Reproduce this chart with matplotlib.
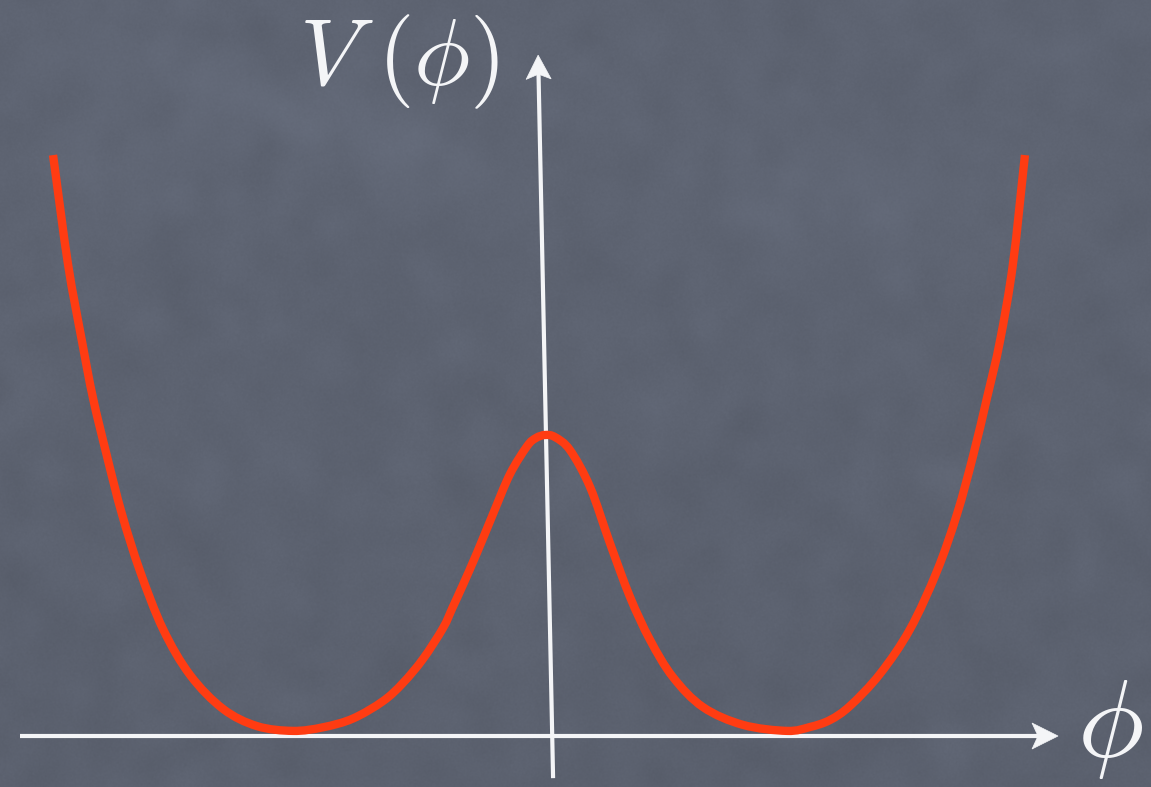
import numpy as np
import matplotlib
matplotlib.use("Agg")
import matplotlib.pyplot as plt
from matplotlib.patches import Polygon, PathPatch
from matplotlib.path import Path
from matplotlib.transforms import IdentityTransform

plt.rcParams["mathtext.fontset"] = "cm"

# Double-well potential V(phi), sampled along the curve
phi = [-2.008, -1.947, -1.890, -1.845, -1.788, -1.727, -1.653, -1.559, -1.449,
       -1.314, -1.176, -1.029, -0.906, -0.784, -0.661, -0.580, -0.498, -0.416,
       -0.376, -0.335, -0.278, -0.212, -0.143, -0.073, -0.037, 0.000, 0.041,
       0.102, 0.184, 0.265, 0.347, 0.429, 0.522, 0.645, 0.808, 0.988, 1.082,
       1.163, 1.245, 1.367, 1.490, 1.600, 1.682, 1.747, 1.804, 1.857, 1.910,
       1.959]
V = [1.930, 1.568, 1.312, 1.123, 0.930, 0.738, 0.548, 0.355, 0.203,
     0.090, 0.033, 0.017, 0.029, 0.058, 0.116, 0.176, 0.256, 0.359,
     0.429, 0.502, 0.608, 0.738, 0.870, 0.963, 0.990, 1.000, 0.993,
     0.950, 0.827, 0.641, 0.462, 0.319, 0.196, 0.096, 0.037, 0.017, 0.030,
     0.053, 0.100, 0.206, 0.355, 0.548, 0.738, 0.930, 1.123, 1.312, 1.568,
     1.930]

x_label = r"$\phi$"
y_label = r"$V\;(\phi)$"

BOARD = "#5e6472"
CHALK = "#f4f5f7"
CURVE = "#ff3c12"

XLIM = (-2.2245, 2.4735)
YLIM = (-0.1694, 2.4452)

fig = plt.figure(figsize=(11.51, 7.87), dpi=100)
fig.patch.set_facecolor(BOARD)
ax = fig.add_axes([0, 0, 1, 1])
ax.set_xlim(*XLIM)
ax.set_ylim(*YLIM)
ax.axis("off")

# faint chalkboard texture
rng = np.random.default_rng(7)
h, w = 787, 1151
noise = rng.normal(size=(h, w))
ky = np.fft.fftfreq(h)[:, None]
kx = np.fft.fftfreq(w)[None, :]
F = np.fft.fft2(noise)
smooth = np.real(np.fft.ifft2(F * np.exp(-(kx**2 + ky**2) * 2 * (40**2))))
smooth /= np.abs(smooth).max()
fine = np.real(np.fft.ifft2(F * np.exp(-(kx**2 + ky**2) * 2 * (2.0**2))))
fine /= np.abs(fine).max()
yy, xx = np.mgrid[0:h, 0:w]
# a couple of wiped chalk streaks
u = (xx - 320) * 0.94 + (yy - 120) * 0.34
v = -(xx - 320) * 0.34 + (yy - 120) * 0.94
smudge = (0.06 * np.exp(-((u / 200) ** 2 + (v / 35) ** 2))
          + 0.05 * np.exp(-(((xx - 850) / 130) ** 2 + ((yy - 205) / 55) ** 2))
          + 0.03 * np.exp(-(((xx - 120) / 120) ** 2 + ((yy - 160) / 80) ** 2)))
base = np.array(matplotlib.colors.to_rgb(BOARD))
shade = 1 + 0.045 * smooth + 0.03 * fine + smudge - 0.03 * (yy / h)
img = np.clip(base[None, None, :] * shade[..., None], 0, 1)
ax.imshow(img, extent=[XLIM[0], XLIM[1], YLIM[0], YLIM[1]],
          origin="upper", aspect="auto", zorder=0, interpolation="bilinear")
ax.set_xlim(*XLIM)
ax.set_ylim(*YLIM)


def arrow_head(tip, back, length=25, half=12.5, notch=6, color=CHALK):
    """Concave arrowhead drawn in display space, pointing from back to tip."""
    t = ax.transData.transform(tip)
    b = ax.transData.transform(back)
    d = (t - b) / np.linalg.norm(t - b)
    n = np.array([-d[1], d[0]])
    base_pt = t - d * length
    pts = [t, base_pt + n * half, t - d * (length - notch), base_pt - n * half]
    ax.add_patch(Polygon(pts, closed=True, facecolor=color, edgecolor=color,
                         linewidth=0.5, transform=IdentityTransform(), zorder=4))
    return ax.transData.inverted().transform(t - d * (length - notch - 1))


def smooth_path(xs, ys):
    """Catmull-Rom curve through the sampled points, as cubic Bezier segments."""
    p = np.column_stack([xs, ys]).astype(float)
    p = np.vstack([p[0] * 2 - p[1], p, p[-1] * 2 - p[-2]])
    verts, codes = [p[1]], [Path.MOVETO]
    for i in range(1, len(p) - 2):
        c1 = p[i] + (p[i + 1] - p[i - 1]) / 6
        c2 = p[i + 1] - (p[i + 2] - p[i]) / 6
        verts += [c1, c2, p[i + 1]]
        codes += [Path.CURVE4] * 3
    return Path(verts, codes)


# horizontal axis
h_tail, h_tip = (-2.143, 0.0), (2.094, 0.0)
h_end = arrow_head(h_tip, h_tail, length=26, half=13, notch=6)
ax.plot([h_tail[0], h_end[0]], [h_tail[1], h_end[1]], color=CHALK, lw=3.0,
        solid_capstyle="butt", zorder=3)

# vertical axis (slightly leaning, as drawn by hand)
v_tail, v_tip = (0.033, -0.140), (-0.028, 2.262)
v_end = arrow_head(v_tip, v_tail, length=24, half=12.5, notch=5)
ax.plot([v_tail[0], v_end[0]], [v_tail[1], v_end[1]], color=CHALK, lw=3.0,
        solid_capstyle="butt", zorder=3)

# potential curve
ax.add_patch(PathPatch(smooth_path(phi, V), facecolor="none", edgecolor=CURVE,
                       lw=6.0, capstyle="butt", joinstyle="round", zorder=5))

ax.text(-0.595, 2.239, y_label, color=CHALK, fontsize=68, ha="center",
        va="center", zorder=6)
ax.text(2.305, 0.028, x_label, color=CHALK, fontsize=80, ha="center",
        va="center", zorder=6)

fig.savefig("out.png", dpi=100, facecolor=fig.get_facecolor())
